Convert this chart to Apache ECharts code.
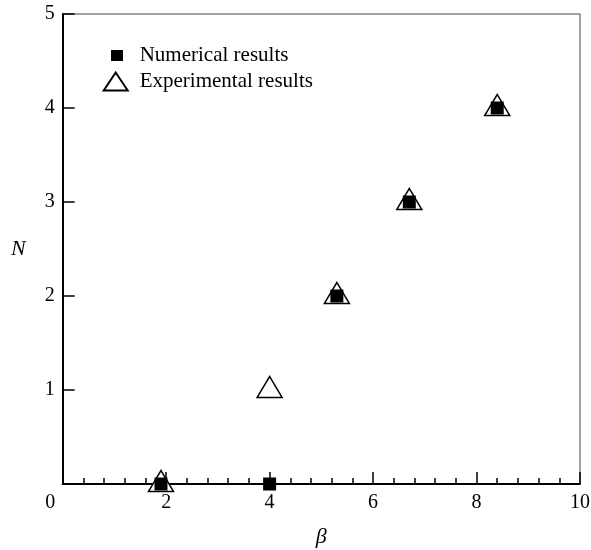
<!DOCTYPE html>
<html>
<head>
<meta charset="utf-8">
<script src="https://cdn.jsdelivr.net/npm/echarts@6/dist/echarts.min.js"></script>
<style>
html,body{margin:0;padding:0;background:#fff;}
#chart{width:591px;height:550px;}
</style>
</head>
<body>
<div id="chart"></div>
<script>
// Data
const betaValues = [1.9, 4, 5.3, 6.7, 8.4];
const numericalN = [0, 0, 2, 3, 4];
const experimentalN = [0, 1, 2, 3, 4];
const seriesNames = ['Numerical results', 'Experimental results'];
const xTicks = [0, 2, 4, 6, 8, 10];
const yTicks = [0, 1, 2, 3, 4, 5];

const FONT = 'Liberation Serif';

const numericalData = betaValues.map((b, i) => [b, numericalN[i]]);
const experimentalData = betaValues.map((b, i) => [b, experimentalN[i]]);

const chart = echarts.init(document.getElementById('chart'), null, {renderer: 'canvas'});

const option = {
  backgroundColor: '#fff',
  animation: false,
  grid: {
    left: 62.7, right: 11, top: 14, bottom: 66,
    containLabel: false, outerBoundsMode: 'none',
    show: true, borderColor: '#444', borderWidth: 1, backgroundColor: 'transparent'
  },
  legend: {
    orient: 'vertical',
    left: 102.7, top: 45,
    padding: 0,
    itemGap: 5,
    itemWidth: 31, itemHeight: 18,
    textStyle: {fontFamily: FONT, fontSize: 21, color: '#000'},
    data: [
      {name: seriesNames[0], icon: 'path://M0,0 M31,18 M7.3,3.5 L19.3,3.5 L19.3,14.5 L7.3,14.5 Z'},
      {name: seriesNames[1], icon: 'path://M0,0 M31,18 M0,18 L12,0 L24,18 Z'}
    ]
  },
  xAxis: {
    type: 'value',
    min: xTicks[0], max: xTicks[xTicks.length - 1], interval: 2,
    name: 'β', nameLocation: 'middle', nameGap: 42,
    nameTextStyle: {fontFamily: FONT, fontStyle: 'italic', fontSize: 22, color: '#000'},
    axisLine: {show: true, onZero: false, lineStyle: {color: '#000', width: 2}},
    axisTick: {show: true, inside: true, length: 12, lineStyle: {color: '#000', width: 1.5}},
    minorTick: {show: true, splitNumber: 5, length: 6, lineStyle: {color: '#000', width: 1.5}},
    splitLine: {show: false},
    axisLabel: {
      color: '#000', fontFamily: FONT, fontSize: 20, margin: 9,
      formatter: v => v === 0 ? '{z|0}' : String(v),
      rich: {z: {fontFamily: FONT, fontSize: 20, color: '#000', padding: [0, 25, 0, 0]}}
    }
  },
  yAxis: {
    type: 'value',
    min: yTicks[0], max: yTicks[yTicks.length - 1], interval: 1,
    name: 'N', nameLocation: 'middle', nameRotate: 0, nameGap: 37,
    nameTextStyle: {fontFamily: FONT, fontStyle: 'italic', fontSize: 22, color: '#000'},
    axisLine: {show: true, onZero: false, lineStyle: {color: '#000', width: 2}},
    axisTick: {show: true, inside: true, length: 12, lineStyle: {color: '#000', width: 1.5}},
    splitLine: {show: false},
    axisLabel: {
      color: '#000', fontFamily: FONT, fontSize: 20, margin: 8,
      formatter: v => v === 0 ? '' : String(v)
    }
  },
  series: [
    {
      name: seriesNames[1],
      type: 'scatter',
      data: experimentalData,
      symbol: 'triangle',
      symbolSize: [25, 21],
      symbolOffset: [0, -3],
      itemStyle: {color: '#fff', borderColor: '#000', borderWidth: 1.5, opacity: 1},
      emphasis: {disabled: true},
      z: 2
    },
    {
      name: seriesNames[0],
      type: 'scatter',
      data: numericalData,
      symbol: 'rect',
      symbolSize: [13, 13],
      itemStyle: {color: '#000', opacity: 1},
      emphasis: {disabled: true},
      z: 3
    }
  ]
};

chart.setOption(option);
</script>
</body>
</html>
